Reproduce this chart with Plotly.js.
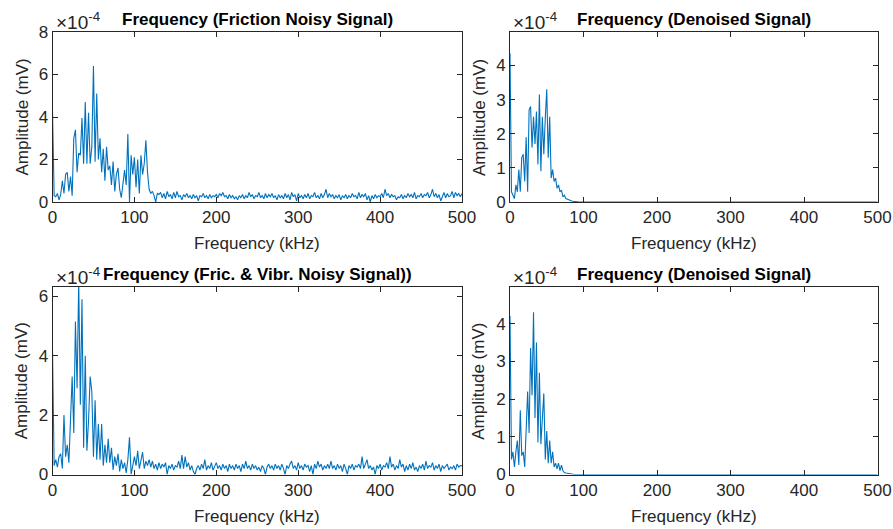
<!DOCTYPE html>
<html>
<head>
<meta charset="utf-8">
<script src="https://cdn.plot.ly/plotly-3.0.1.min.js"></script>
<style>
html,body{margin:0;padding:0;background:#fff;}
#chart{width:893px;height:529px;}
</style>
</head>
<body>
<div id="chart"></div>
<script>
// Frequency bin spacing of the spectra (kHz)
const BIN_KHZ = 2;

// Amplitudes in units of 1e-4 mV, one value per 2 kHz bin, 0..500 kHz (251 bins)
const frictionNoisy = [
  4.3, 0.3, 0.25, 0.4, 0.1, 0.35, 1.0, 0.4, 1.3, 1.4,        // 0-18
  0.5, 1.2, 0.3, 3.0, 3.4, 1.4, 2.3, 2.2, 3.95, 1.8,         // 20-38
  4.7, 1.8, 4.2, 1.8, 2.6, 6.4, 1.9, 5.1, 2.0, 3.0,          // 40-58
  1.4, 2.5, 1.0, 2.6, 1.5, 1.7, 0.8, 1.9, 0.5, 1.3,          // 60-78
  1.6, 0.6, 0.2, 0.8, 1.5, 0.8, 3.2, 0.0, 2.2, 1.3,          // 80-98
  2.1, 0.7, 2.0, 0.4, 2.2, 1.3, 1.8, 2.9, 1.4, 0.6,          // 100-118
  0.4, 0.5, 0.3, 0.0, 0.4, 0.35, 0.45, 0.2, 0.4, 0.15,       // 120-138
  0.5, 0.25, 0.35, 0.15, 0.45, 0.2, 0.5, 0.25, 0.3, 0.1,     // 140-158
  0.35, 0.25, 0.4, 0.2, 0.3, 0.15, 0.35, 0.2, 0.3, 0.05,     // 160-178
  0.3, 0.25, 0.4, 0.2, 0.3, 0.15, 0.35, 0.2, 0.3, 0.25,      // 180-198
  0.35, 0.2, 0.4, 0.3, 0.45, 0.25, 0.3, 0.15, 0.35, 0.2,     // 200-218
  0.3, 0.15, 0.25, 0.1, 0.3, 0.2, 0.35, 0.15, 0.3, 0.2,      // 220-238
  0.45, 0.25, 0.35, 0.15, 0.3, 0.25, 0.45, 0.2, 0.3, 0.15,   // 240-258
  0.4, 0.2, 0.35, 0.25, 0.4, 0.2, 0.3, 0.1, 0.35, 0.2,       // 260-278
  0.3, 0.15, 0.4, 0.2, 0.35, 0.1, 0.45, 0.25, 0.35, 0.05,    // 280-298
  0.4, 0.2, 0.3, 0.15, 0.35, 0.2, 0.4, 0.15, 0.3, 0.25,      // 300-318
  0.45, 0.2, 0.3, 0.15, 0.4, 0.2, 0.35, 0.6, 0.2, 0.4,       // 320-338
  0.25, 0.35, 0.15, 0.3, 0.2, 0.35, 0.1, 0.3, 0.2, 0.35,     // 340-358
  0.15, 0.3, 0.2, 0.4, 0.25, 0.3, 0.15, 0.45, 0.2, 0.35,     // 360-378
  0.25, 0.4, 0.1, 0.3, 0.0, 0.3, 0.15, 0.35, 0.2, 0.3,       // 380-398
  0.25, 0.4, 0.2, 0.6, 0.3, 0.4, 0.2, 0.35, 0.25, 0.3,       // 400-418
  0.1, 0.25, 0.2, 0.35, 0.15, 0.3, 0.2, 0.4, 0.25, 0.35,     // 420-438
  0.2, 0.45, 0.15, 0.3, 0.25, 0.4, 0.2, 0.35, 0.3, 0.45,     // 440-458
  0.2, 0.35, 0.6, 0.25, 0.4, 0.2, 0.35, 0.05, 0.3, 0.45,     // 460-478
  0.2, 0.4, 0.25, 0.3, 0.5, 0.2, 0.45, 0.3, 0.4, 0.25,       // 480-498
  0.4                                                        // 500
];

const frictionDenoised = [
  4.35, 0.3, 0.2, 0.1, 0.5, 0.3, 0.95, 0.3, 1.3, 1.4,        // 0-18
  0.6, 1.9, 0.3, 2.7, 2.8, 1.6, 2.5, 1.7, 2.65, 1.1,         // 20-38
  3.15, 0.9, 2.5, 1.4, 2.45, 3.3, 1.3, 2.5, 0.7, 0.95,       // 40-58
  0.6, 0.7, 0.4, 0.5, 0.3, 0.35, 0.15, 0.2, 0.1, 0.08,       // 60-78
  0.05, 0.04, 0.03, 0.02, 0.01, 0.01, 0, 0, 0, 0,            // 80-98
  0, 0, 0, 0, 0, 0, 0, 0, 0, 0,                              // 100-118
  0, 0, 0, 0, 0, 0, 0, 0, 0, 0,                              // 120-138
  0, 0, 0, 0, 0, 0, 0, 0, 0, 0,                              // 140-158
  0, 0, 0, 0, 0, 0, 0, 0, 0, 0,                              // 160-178
  0, 0, 0, 0, 0, 0, 0, 0, 0, 0,                              // 180-198
  0, 0, 0, 0, 0, 0, 0, 0, 0, 0,                              // 200-218
  0, 0, 0, 0, 0, 0, 0, 0, 0, 0,                              // 220-238
  0, 0, 0, 0, 0, 0, 0, 0, 0, 0,                              // 240-258
  0, 0, 0, 0, 0, 0, 0, 0, 0, 0,                              // 260-278
  0, 0, 0, 0, 0, 0, 0, 0, 0, 0,                              // 280-298
  0, 0, 0, 0, 0, 0, 0, 0, 0, 0,                              // 300-318
  0, 0, 0, 0, 0, 0, 0, 0, 0, 0,                              // 320-338
  0, 0, 0, 0, 0, 0, 0, 0, 0, 0,                              // 340-358
  0, 0, 0, 0, 0, 0, 0, 0, 0, 0,                              // 360-378
  0, 0, 0, 0, 0, 0, 0, 0, 0, 0,                              // 380-398
  0, 0, 0, 0, 0, 0, 0, 0, 0, 0,                              // 400-418
  0, 0, 0, 0, 0, 0, 0, 0, 0, 0,                              // 420-438
  0, 0, 0, 0, 0, 0, 0, 0, 0, 0,                              // 440-458
  0, 0, 0, 0, 0, 0, 0, 0, 0, 0,                              // 460-478
  0, 0, 0, 0, 0, 0, 0, 0, 0, 0,                              // 480-498
  0                                                          // 500
];

const fricVibrNoisy = [
  4.2, 0.3, 0.5, 0.25, 0.6, 0.7, 0.2, 2.0, 0.6, 1.0,         // 0-18
  0.4, 1.6, 3.3, 1.4, 5.15, 2.9, 6.5, 2.35, 5.9, 0.9,        // 20-38
  4.0, 0.8, 1.8, 3.3, 2.8, 0.6, 2.5, 0.5, 1.7, 0.5,          // 40-58
  1.7, 0.3, 1.0, 0.4, 1.2, 0.4, 0.9, 0.15, 0.6, 0.3,         // 60-78
  0.7, 0.1, 0.5, 0.2, 0.4, 0.05, 0.5, 1.25, 0.0, 0.3,        // 80-98
  0.6, 0.3, 0.8, 0.2, 0.5, 0.75, 0.2, 0.45, 0.3, 0.5,        // 100-118
  0.25, 0.45, 0.2, 0.35, 0.15, 0.4, 0.2, 0.35, 0.25, 0.4,    // 120-138
  0.0, 0.3, 0.2, 0.35, 0.15, 0.3, 0.25, 0.45, 0.2, 0.65,     // 140-158
  0.2, 0.6, 0.25, 0.4, 0.15, 0.3, 0.1, 0.0, 0.2, 0.3,        // 160-178
  0.15, 0.35, 0.2, 0.5, 0.15, 0.3, 0.2, 0.4, 0.15, 0.3,      // 180-198
  0.4, 0.2, 0.3, 0.15, 0.35, 0.2, 0.3, 0.1, 0.35, 0.2,       // 200-218
  0.3, 0.15, 0.35, 0.2, 0.3, 0.1, 0.35, 0.2, 0.45, 0.2,      // 220-238
  0.3, 0.15, 0.35, 0.2, 0.3, 0.15, 0.25, 0.1, 0.3, 0.2,      // 240-258
  0.0, 0.25, 0.35, 0.2, 0.3, 0.15, 0.35, 0.2, 0.3, 0.15,     // 260-278
  0.35, 0.2, 0.0, 0.3, 0.2, 0.35, 0.45, 0.2, 0.3, 0.15,      // 280-298
  0.4, 0.2, 0.3, 0.15, 0.35, 0.25, 0.3, 0.1, 0.3, 0.0,       // 300-318
  0.35, 0.2, 0.45, 0.25, 0.35, 0.15, 0.3, 0.2, 0.35, 0.2,    // 320-338
  0.45, 0.2, 0.3, 0.15, 0.35, 0.2, 0.3, 0.1, 0.35, 0.2,      // 340-358
  0.0, 0.3, 0.2, 0.35, 0.15, 0.3, 0.25, 0.35, 0.2, 0.6,      // 360-378
  0.2, 0.35, 0.5, 0.2, 0.3, 0.15, 0.25, 0.0, 0.3, 0.2,       // 380-398
  0.35, 0.15, 0.3, 0.25, 0.4, 0.2, 0.6, 0.25, 0.35, 0.15,    // 400-418
  0.3, 0.2, 0.5, 0.25, 0.35, 0.1, 0.3, 0.15, 0.35, 0.2,      // 420-438
  0.4, 0.15, 0.25, 0.1, 0.3, 0.2, 0.35, 0.15, 0.45, 0.2,     // 440-458
  0.3, 0.25, 0.4, 0.15, 0.3, 0.2, 0.35, 0.1, 0.3, 0.2,       // 460-478
  0.3, 0.35, 0.15, 0.25, 0.2, 0.3, 0.15, 0.35, 0.25, 0.3,    // 480-498
  0.3                                                        // 500
];

const fricVibrDenoised = [
  4.2, 0.4, 0.6, 0.2, 0.6, 0.9, 0.25, 1.7, 0.5, 0.6,         // 0-18
  0.2, 1.1, 2.2, 1.1, 3.35, 2.1, 4.3, 1.5, 3.5, 0.85,        // 20-38
  2.7, 0.8, 1.5, 2.15, 0.4, 1.15, 0.3, 0.9, 0.3, 0.6,        // 40-58
  0.2, 0.3, 0.15, 0.3, 0.1, 0.25, 0.1, 0.05, 0.04, 0.03,     // 60-78
  0.02, 0.01, 0.01, 0.01, 0, 0, 0, 0, 0, 0,                  // 80-98
  0, 0, 0, 0, 0, 0, 0, 0, 0, 0,                              // 100-118
  0, 0, 0, 0, 0, 0, 0, 0, 0, 0,                              // 120-138
  0, 0, 0, 0, 0, 0, 0, 0, 0, 0,                              // 140-158
  0, 0, 0, 0, 0, 0, 0, 0, 0, 0,                              // 160-178
  0, 0, 0, 0, 0, 0, 0, 0, 0, 0,                              // 180-198
  0, 0, 0, 0, 0, 0, 0, 0, 0, 0,                              // 200-218
  0, 0, 0, 0, 0, 0, 0, 0, 0, 0,                              // 220-238
  0, 0, 0, 0, 0, 0, 0, 0, 0, 0,                              // 240-258
  0, 0, 0, 0, 0, 0, 0, 0, 0, 0,                              // 260-278
  0, 0, 0, 0, 0, 0, 0, 0, 0, 0,                              // 280-298
  0, 0, 0, 0, 0, 0, 0, 0, 0, 0,                              // 300-318
  0, 0, 0, 0, 0, 0, 0, 0, 0, 0,                              // 320-338
  0, 0, 0, 0, 0, 0, 0, 0, 0, 0,                              // 340-358
  0, 0, 0, 0, 0, 0, 0, 0, 0, 0,                              // 360-378
  0, 0, 0, 0, 0, 0, 0, 0, 0, 0,                              // 380-398
  0, 0, 0, 0, 0, 0, 0, 0, 0, 0,                              // 400-418
  0, 0, 0, 0, 0, 0, 0, 0, 0, 0,                              // 420-438
  0, 0, 0, 0, 0, 0, 0, 0, 0, 0,                              // 440-458
  0, 0, 0, 0, 0, 0, 0, 0, 0, 0,                              // 460-478
  0, 0, 0, 0, 0, 0, 0, 0, 0, 0,                              // 480-498
  0                                                          // 500
];

const panelTitles = [
  'Frequency (Friction Noisy Signal)',
  'Frequency (Denoised Signal)',
  'Frequency (Fric. & Vibr. Noisy Signal))',
  'Frequency (Denoised Signal)'
];
const xTitle = 'Frequency (kHz)';
const yTitle = 'Amplitude (mV)';
const expLabel = '×10<sup>-4</sup>';
const xTickVals = [0, 100, 200, 300, 400, 500];
const yTicks1 = [0, 2, 4, 6, 8];
const yTicks2 = [0, 1, 2, 3, 4];
const yTicks3 = [0, 2, 4, 6];
const yTicks4 = [0, 1, 2, 3, 4];

// ---- layout geometry (pixels) ----
const W = 893, H = 529;
const boxes = [
  {l: 52.5, r: 462,   t: 32,  b: 202},
  {l: 510,  r: 877.5, t: 32,  b: 202},
  {l: 52.5, r: 462,   t: 287, b: 474.5},
  {l: 510,  r: 877.5, t: 287, b: 474.5}
];
const yRanges = [[0, 8], [0, 4.98], [0, 6.31], [0, 4.97]];
const yTickSets = [yTicks1, yTicks2, yTicks3, yTicks4];
const series = [frictionNoisy, frictionDenoised, fricVibrNoisy, fricVibrDenoised];

const FONT = 'Liberation Sans, Arial, Helvetica, sans-serif';
const INK = '#262626';
const LINE = '#0072BD';

const px = x => x / W;
const py = y => 1 - y / H;

const traces = [];
const layout = {
  width: W, height: H, autosize: false,
  margin: {l: 0, r: 0, t: 0, b: 0, pad: 0},
  paper_bgcolor: '#ffffff', plot_bgcolor: '#ffffff',
  showlegend: false,
  font: {family: FONT, size: 17, color: INK},
  annotations: []
};

function axisBase() {
  return {
    showline: true, mirror: 'ticks', linecolor: INK, linewidth: 1,
    ticks: 'inside', ticklen: 5, tickwidth: 1, tickcolor: INK,
    showgrid: false, zeroline: false, fixedrange: true,
    tickfont: {family: FONT, size: 17, color: INK}
  };
}

series.forEach((amp, i) => {
  const n = i + 1;
  const xa = 'x' + (n === 1 ? '' : n);
  const ya = 'y' + (n === 1 ? '' : n);
  const box = boxes[i];
  traces.push({
    type: 'scatter', mode: 'lines',
    x: amp.map((_, k) => k * BIN_KHZ),
    y: amp,
    xaxis: xa, yaxis: ya,
    line: {color: LINE, width: 1.1},
    hoverinfo: 'skip'
  });
  layout['xaxis' + (n === 1 ? '' : n)] = Object.assign(axisBase(), {
    domain: [px(box.l), px(box.r)],
    anchor: ya, range: [0, 500],
    tickmode: 'array', tickvals: xTickVals, ticktext: xTickVals.map(String)
  });
  layout['yaxis' + (n === 1 ? '' : n)] = Object.assign(axisBase(), {
    domain: [py(box.b), py(box.t)],
    anchor: xa, range: yRanges[i],
    tickmode: 'array', tickvals: yTickSets[i], ticktext: yTickSets[i].map(String)
  });
  const cx = (box.l + box.r) / 2;
  const cy = (box.t + box.b) / 2;
  // panel title
  layout.annotations.push({
    text: '<b>' + panelTitles[i] + '</b>', showarrow: false,
    xref: 'paper', yref: 'paper', x: px(cx), y: py(box.t - 13),
    xanchor: 'center', yanchor: 'middle',
    font: {family: FONT, size: 17, color: '#000000'}
  });
  // x-axis title
  layout.annotations.push({
    text: xTitle, showarrow: false,
    xref: 'paper', yref: 'paper', x: px(cx), y: py(box.b + 42),
    xanchor: 'center', yanchor: 'middle',
    font: {family: FONT, size: 17, color: INK}
  });
  // y-axis title
  layout.annotations.push({
    text: yTitle, showarrow: false, textangle: -90,
    xref: 'paper', yref: 'paper', x: px(box.l - 31), y: py(cy),
    xanchor: 'center', yanchor: 'middle',
    font: {family: FONT, size: 17, color: INK}
  });
  // exponent label
  layout.annotations.push({
    text: expLabel, showarrow: false,
    xref: 'paper', yref: 'paper', x: px(box.l + 1), y: py(box.t - 11),
    xanchor: 'left', yanchor: 'middle',
    font: {family: FONT, size: 19, color: INK}
  });
});

Plotly.newPlot('chart', traces, layout, {staticPlot: true, displayModeBar: false});
</script>
</body>
</html>
